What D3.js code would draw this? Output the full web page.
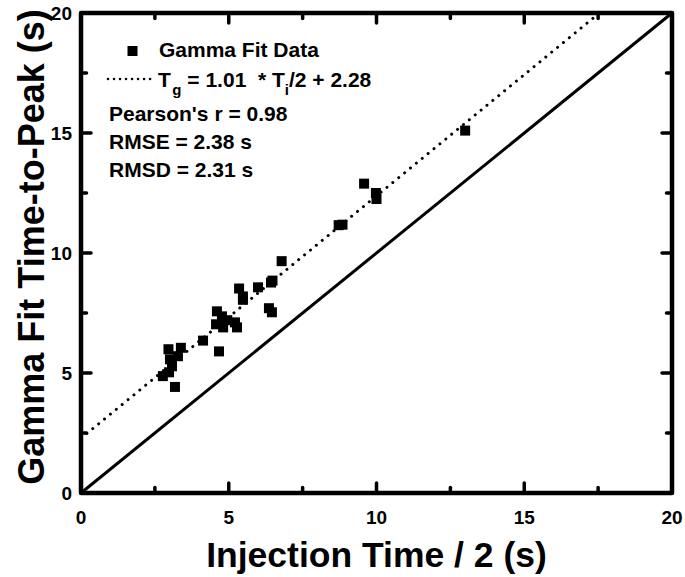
<!DOCTYPE html>
<html><head><meta charset="utf-8">
<script src="https://cdn.jsdelivr.net/npm/d3@7"></script>
<style>
html,body{margin:0;padding:0;background:#fff;}
svg text{font-family:"Liberation Sans",Arial,sans-serif;font-weight:bold;fill:#000;white-space:pre;}
</style></head>
<body><svg id="chart" width="685" height="577"></svg>
<script>
// ---- data ----
const injectionHalf = [2.77,3.18,2.96,3.38,3.01,3.08,2.98,3.28,4.13,4.67,4.60,4.77,4.57,4.81,4.95,5.21,5.28,5.35,5.48,5.48,5.99,6.43,6.48,6.36,6.46,6.79,8.72,8.85,9.58,9.98,10.00,13.00];
const gammaPeak    = [4.87,4.42,5.99,6.05,5.57,5.28,5.03,5.70,6.35,5.90,7.57,7.36,7.03,6.90,7.20,7.11,6.90,8.52,8.19,8.05,8.57,8.77,8.85,7.70,7.53,9.66,11.16,11.18,12.89,12.50,12.25,15.10];
const fitSlope = 1.01, fitIntercept = 2.28;
const majorTicks = [0,5,10,15,20];
const minorTicks = [2.5,7.5,12.5,17.5];
const xTitle = "Injection Time / 2 (s)";
const yTitle = "Gamma Fit Time-to-Peak (s)";
const statLines = ["Pearson's r = 0.98","RMSE = 2.38 s","RMSD = 2.31 s"];

// ---- layout ----
const svg = d3.select("#chart");
const L = 81, R = 672, T = 13, B = 493;
const x = d3.scaleLinear().domain([0,20]).range([L,R]);
const y = d3.scaleLinear().domain([0,20]).range([B,T]);

// reference line y = x
svg.append("line").attr("x1",x(0)).attr("y1",y(0)).attr("x2",x(20)).attr("y2",y(20))
  .attr("stroke","#000").attr("stroke-width",3);

// fit line (dotted)
const xEnd = (20 - fitIntercept)/fitSlope;
svg.append("line").attr("x1",x(0)).attr("y1",y(fitIntercept)).attr("x2",x(xEnd)).attr("y2",y(20))
  .attr("stroke","#000").attr("stroke-width",3).attr("stroke-linecap","round")
  .attr("stroke-dasharray","0.01 7.6");

// points
const pts = injectionHalf.map((v,i)=>[v,gammaPeak[i]]);
const S = 10;
svg.append("g").selectAll("rect").data(pts).join("rect")
  .attr("x",d=>x(d[0])-S/2).attr("y",d=>y(d[1])-S/2).attr("width",S).attr("height",S).attr("fill","#000");

// ticks (inward, all four sides)
const tk = svg.append("g").attr("stroke","#000").attr("stroke-width",3.5).attr("stroke-linecap","round");
const ticks = majorTicks.slice(1,-1).map(v=>[v,10]).concat(minorTicks.map(v=>[v,5.5]));
ticks.forEach(([v,len])=>{
  tk.append("line").attr("x1",x(v)).attr("x2",x(v)).attr("y1",B).attr("y2",B-len);
  tk.append("line").attr("x1",x(v)).attr("x2",x(v)).attr("y1",T).attr("y2",T+len);
  tk.append("line").attr("y1",y(v)).attr("y2",y(v)).attr("x1",L).attr("x2",L+len);
  tk.append("line").attr("y1",y(v)).attr("y2",y(v)).attr("x1",R).attr("x2",R-len);
});

// frame
svg.append("rect").attr("x",L).attr("y",T).attr("width",R-L).attr("height",B-T)
  .attr("fill","none").attr("stroke","#000").attr("stroke-width",4.5).attr("stroke-linejoin","round");

// tick labels
svg.append("g").selectAll("text").data(majorTicks).join("text")
  .attr("x",d=>x(d)).attr("y",524).attr("text-anchor","middle").attr("font-size",19).text(d=>d);
svg.append("g").selectAll("text").data(majorTicks).join("text")
  .attr("x",72).attr("y",d=>y(d)+7).attr("text-anchor","end").attr("font-size",19).text(d=>d);

// axis titles
svg.append("text").attr("x",(L+R)/2).attr("y",567)
  .attr("text-anchor","middle").attr("font-size",35.5).text(xTitle);
svg.append("text").attr("transform",`translate(44,${(T+B)/2 - 6}) rotate(-90)`)
  .attr("text-anchor","middle").attr("font-size",36).text(yTitle);

// legend
svg.append("rect").attr("x",132.5-S/2).attr("y",51-S/2).attr("width",S).attr("height",S).attr("fill","#000");
svg.append("text").attr("x",159).attr("y",57).attr("font-size",21).text("Gamma Fit Data");
svg.append("line").attr("x1",108).attr("x2",156).attr("y1",79).attr("y2",79)
  .attr("stroke","#000").attr("stroke-width",2.6).attr("stroke-linecap","round").attr("stroke-dasharray","0.01 6");
const eq = svg.append("text").attr("x",158).attr("y",87).attr("font-size",21);
eq.append("tspan").text("T");
eq.append("tspan").attr("font-size",15).attr("dx",1.5).attr("dy",8).text("g");
eq.append("tspan").attr("dy",-8).text(" = "+fitSlope.toFixed(2)+"  * T");
eq.append("tspan").attr("font-size",15).attr("dy",8).text("i");
eq.append("tspan").attr("dy",-8).text("/2 + "+fitIntercept.toFixed(2));
svg.append("g").selectAll("text").data(statLines).join("text")
  .attr("x",109).attr("y",(d,i)=>121+i*28).attr("font-size",21).text(d=>d);
</script></body></html>
